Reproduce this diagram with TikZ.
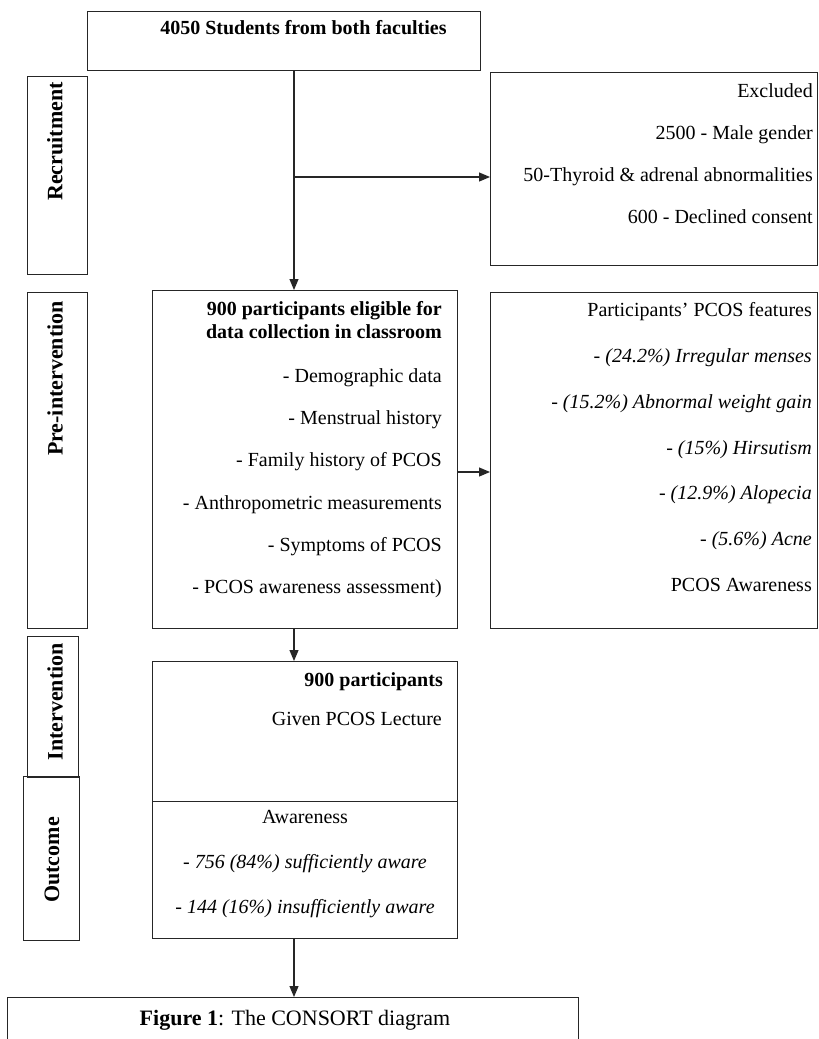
\documentclass[tikz,border=0pt]{standalone}
\usepackage{fontspec}
\setmainfont{Liberation Serif}
\usetikzlibrary{arrows.meta,positioning}
\tikzset{
  box/.style={draw=black!85, line width=1.4pt, inner sep=0pt, anchor=north west},
  side/.style={font=\fontsize{22}{26}\selectfont\bfseries, rotate=90, anchor=east, inner sep=0pt},
  txt/.style={font=\fontsize{20}{42}\selectfont, inner sep=0pt},
  head/.style={font=\fontsize{20}{23}\selectfont\bfseries, inner sep=0pt},
  flow/.style={->, line width=1.2pt, draw=black!85},
}
\begin{document}
\begin{tikzpicture}[x=1pt, y=-1pt, >={Triangle[length=11pt,width=9pt]}]
                \useasboundingbox (0,0) rectangle (819,1039);
                \node[box, minimum width=393pt, minimum height=59pt] (pool) at (87,11) {};
                \node[box, minimum width=60pt, minimum height=198pt] (recr) at (27,76) {};
                \node[box, minimum width=327pt, minimum height=193pt] (excl) at (490,72) {};
                \node[box, minimum width=60pt, minimum height=336pt] (preint) at (27,292) {};
                \node[box, minimum width=305pt, minimum height=338pt] (elig) at (152,290) {};
                \node[box, minimum width=327pt, minimum height=336pt] (feat) at (490,292) {};
                \node[box, minimum width=51pt, minimum height=141pt] (interv) at (27,636) {};
                \node[box, minimum width=56pt, minimum height=164pt] (outc) at (23,776) {};
                \node[box, minimum width=305pt, minimum height=140pt] (lect) at (152,661) {};
                \node[box, minimum width=305pt, minimum height=137pt] (aware) at (152,801) {};
                \node[box, minimum width=571pt, minimum height=60pt] (capt) at (7,997) {};

                \node[head, anchor=base] (pooltxt) at (303.5,34.5) {4050 Students from both faculties};
                \node[side] (recrtxt) at (55,82) {Recruitment};
                \node[side] (preinttxt) at (55,301) {Pre-intervention};
                \node[side] (intervtxt) at (55,643) {Intervention};
                \node[side] (outctxt) at (52,817) {Outcome};

                \node[txt, align=right, anchor=north east] (excltxt) at (813,83.5)
                    {Excluded\\2500 - Male gender\\50-Thyroid \& adrenal abnormalities\\600 - Declined consent};
                \node[head, align=right, anchor=north east] (eligtitle) at (442,301.5)
                    {900 participants eligible for\\data collection in classroom};
                \node[txt, font=\fontsize{20}{42.2}\selectfont, align=right, anchor=north east] (eligtxt) at (442,368.5)
                    {- Demographic data\\- Menstrual history\\- Family history of PCOS\\- Anthropometric measurements\\- Symptoms of PCOS\\- PCOS awareness assessment)};
                \node[txt, font=\fontsize{20}{45.8}\selectfont, align=right, anchor=north east] (feattxt) at (812,302.5)
                    {Participants’ PCOS features\\\textit{- (24.2\%) Irregular menses}\\\textit{- (15.2\%) Abnormal weight gain}\\\textit{- (15\%) Hirsutism}\\\textit{- (12.9\%) Alopecia}\\\textit{- (5.6\%) Acne}\\PCOS Awareness};
                \node[head, anchor=base east] (lecttitle) at (443,686.5) {900 participants};
                \node[txt, anchor=base east] (lecttxt) at (442,725.5) {Given PCOS Lecture};
                \node[txt, font=\fontsize{20}{45}\selectfont, align=center, anchor=north] (awaretxt) at (305,810.5)
                    {Awareness\\\textit{- 756 (84\%) sufficiently aware}\\\textit{- 144 (16\%) insufficiently aware}};
                \node[font=\fontsize{22}{26}\selectfont, inner sep=0pt, anchor=base] (capttxt) at (295,1025)
                    {\textbf{Figure 1}: The CONSORT diagram};

                \coordinate (split) at (294,177);
                \coordinate (side2) at (0,472);
                \draw[flow] (pool.south -| split) -- (elig.north -| split);
                \draw[flow] (split) -- (excl.west |- split);
                \draw[flow] (elig.east |- side2) -- (feat.west |- side2);
                \draw[flow] (elig.south -| split) -- (lect.north -| split);
                \draw[flow] (aware.south -| split) -- (capt.north -| split);
            \end{tikzpicture}
\end{document}
